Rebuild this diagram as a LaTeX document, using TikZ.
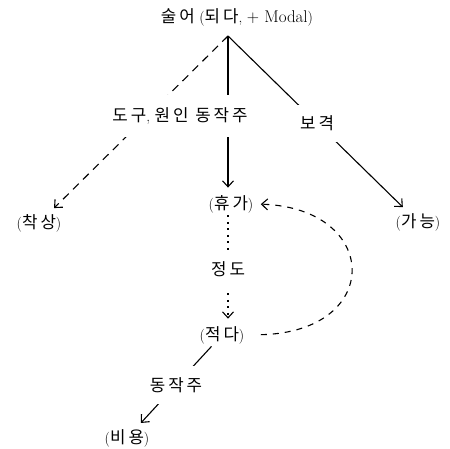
\documentclass[tikz,border=0pt]{standalone}
\usepackage{fontspec}
\newfontfamily\kr[LetterSpace=18, Scale=1.12]{Noto Sans CJK KR}
\usetikzlibrary{arrows.meta}

\begin{document}
\begin{tikzpicture}[
    x=1pt, y=-1pt,
    line width=1.1pt,
    every node/.style={font=\fontsize{15}{17}\selectfont},
    term/.style={inner sep=2pt},
    lbl/.style={fill=white, inner xsep=3pt, inner ysep=11pt},
    arr/.style={-{Straight Barb[length=6pt,width=11pt]}, shorten >=5pt},
    dash8/.style={dash pattern=on 8pt off 6pt},
    dots/.style={dash pattern=on 2pt off 4.5pt}
]
\useasboundingbox (0,0) rectangle (450,448);
% Nodes
\node[term] (pred) at (237,17) {{\kr 술어} ({\kr 되다}, {\fontsize{17}{19}\selectfont + Modal})};
\node[term] (chaksang) at (39,223) {({\kr 착상})};
\node[term] (hyuga) at (231,204) {({\kr 휴가})};
\node[term] (ganeung) at (418,222) {({\kr 가능})};
\node[term] (jeokda) at (222,335) {({\kr 적다})};
\node[term] (biyong) at (127,438) {({\kr 비용})};
\coordinate (top) at (228,36);

% Arrows
\draw[arr, dash8] (top) -- (chaksang);
\draw[arr] (top) -- (top |- hyuga.north);
\draw[arr] (top) -- node[lbl, pos=.5] (bogyeok) {\kr 보격} (ganeung);
\node[lbl, inner ysep=13pt] (dogu) at (180,116) {{\kr 도구}, {\kr 원인 동작주}};
\draw[arr, dots] (hyuga.south -| top) -- node[lbl, inner ysep=12pt] (jeongdo) {\kr 정도} (jeokda.north -| top);
\draw[arr, dash pattern=on 6pt off 6pt, shorten <=14pt] (jeokda.east) .. controls +(137,-3) and +(125,4) .. (hyuga.east);
\draw[arr] (jeokda) -- node[lbl, pos=.48] (dongjakju) {\kr 동작주} (biyong);
\end{tikzpicture}
\end{document}
